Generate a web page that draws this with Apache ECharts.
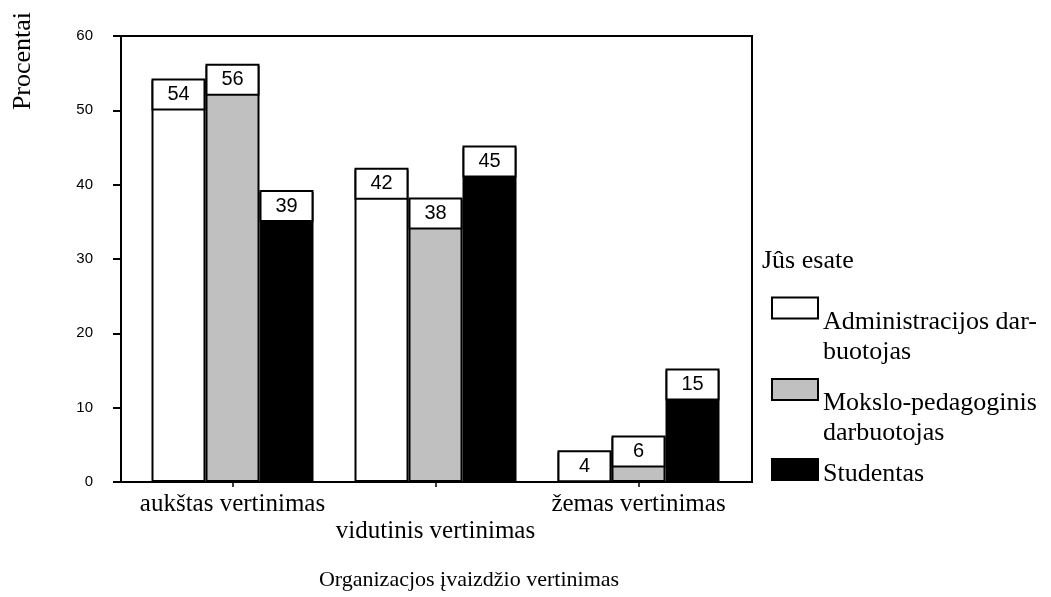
<!DOCTYPE html>
<html>
<head>
<meta charset="utf-8">
<script src="https://cdn.jsdelivr.net/npm/echarts@6/dist/echarts.min.js"></script>
<style>html,body{margin:0;padding:0;background:#fff}#c{width:1051px;height:597px}</style>
</head>
<body>
<div id="c"></div>
<script>
const categories = ['aukštas vertinimas', 'vidutinis vertinimas', 'žemas vertinimas'];
const seriesNames = ['Administracijos darbuotojas', 'Mokslo-pedagoginis darbuotojas', 'Studentas'];
const legendLines = [['Administracijos dar-', 'buotojas'], ['Mokslo-pedagoginis', 'darbuotojas'], ['Studentas']];
const administracija = [54, 42, 4];
const mokslo = [56, 38, 6];
const studentai = [39, 45, 15];
const yTicks = [0, 10, 20, 30, 40, 50, 60];
const yTitle = 'Procentai';
const xTitle = 'Organizacjos įvaizdžio vertinimas';
const legendTitle = 'Jûs esate';

const colors = ['#ffffff', '#c0c0c0', '#000000'];
const values = [administracija, mokslo, studentai];
const serif = 'Liberation Serif';
const sans = 'Liberation Sans';

const chart = echarts.init(document.getElementById('c'));

const series = values.map((v, i) => ({
  type: 'bar',
  name: seriesNames[i],
  xAxisIndex: 1,
  yAxisIndex: 1,
  data: v,
  barWidth: 54,
  barGap: '0%',
  itemStyle: { color: colors[i], borderColor: '#000', borderWidth: 2 },
  label: {
    show: true,
    position: 'insideTop',
    distance: 0,
    formatter: '{c}',
    color: '#000',
    fontSize: 20,
    fontFamily: sans,
    backgroundColor: '#fff',
    borderColor: '#000',
    borderWidth: 2,
    width: 50,
    height: 28,
    lineHeight: 28,
    align: 'center'
  },
  animation: false
}));

const spacer = [58, 58, 10];
const legendTops = [277.5, 359, 454];
const legends = seriesNames.map((n, i) => ({
  data: [n],
  left: 771,
  top: legendTops[i],
  padding: 0,
  orient: 'vertical',
  itemWidth: 46,
  itemHeight: 21,
  icon: 'rect',
  selectedMode: false,
  itemStyle: { borderColor: '#000', borderWidth: 2 },
  formatter: () => '{s| }\n' + legendLines[i].map(l => '{t|' + l + '}').join('\n'),
  textStyle: {
    rich: {
      s: { fontSize: 1, lineHeight: spacer[i] },
      t: { fontSize: 26, lineHeight: 30, fontFamily: serif, color: '#000' }
    }
  }
}));

chart.setOption({
  animation: false,
  grid: [
    { left: 121, right: 299, top: 36, bottom: 115, show: true, borderColor: '#000', borderWidth: 2, backgroundColor: 'transparent' },
    { left: 131, right: 311, top: 36, bottom: 115 }
  ],
  xAxis: [
    { gridIndex: 0, type: 'category', data: categories, show: false },
    {
      gridIndex: 1, type: 'category', data: categories,
      axisLine: { show: false },
      axisTick: { show: true, alignWithLabel: true, length: 5, lineStyle: { color: '#000', width: 1.5 } },
      axisLabel: {
        interval: 0,
        margin: 9,
        color: '#000',
        fontSize: 25,
        lineHeight: 27,
        fontFamily: serif,
        formatter: (v, i) => (i === 1 ? '\n' + v : v)
      }
    }
  ],
  yAxis: [
    {
      gridIndex: 0, type: 'value', min: yTicks[0], max: yTicks[yTicks.length - 1], interval: 10,
      splitLine: { show: false },
      axisLine: { show: true, lineStyle: { color: '#000', width: 2 } },
      axisTick: { show: true, length: 8, lineStyle: { color: '#000', width: 2 } },
      axisLabel: { color: '#000', fontSize: 15, fontFamily: sans, margin: 28 }
    },
    { gridIndex: 1, type: 'value', min: 0, max: 60, interval: 10, show: false, splitLine: { show: false } }
  ],
  legend: legends,
  graphic: [
    { type: 'text', x: 23, y: 61, rotation: Math.PI / 2, style: { text: yTitle, font: '26px "Liberation Serif"', fill: '#000', align: 'center', verticalAlign: 'middle' } },
    { type: 'text', x: 469, y: 580, style: { text: xTitle, font: '22px "Liberation Serif"', fill: '#000', align: 'center', verticalAlign: 'middle' } },
    { type: 'text', x: 762, y: 261, style: { text: legendTitle, font: '26px "Liberation Serif"', fill: '#000', align: 'left', verticalAlign: 'middle' } }
  ],
  series: series
});
</script>
</body>
</html>
